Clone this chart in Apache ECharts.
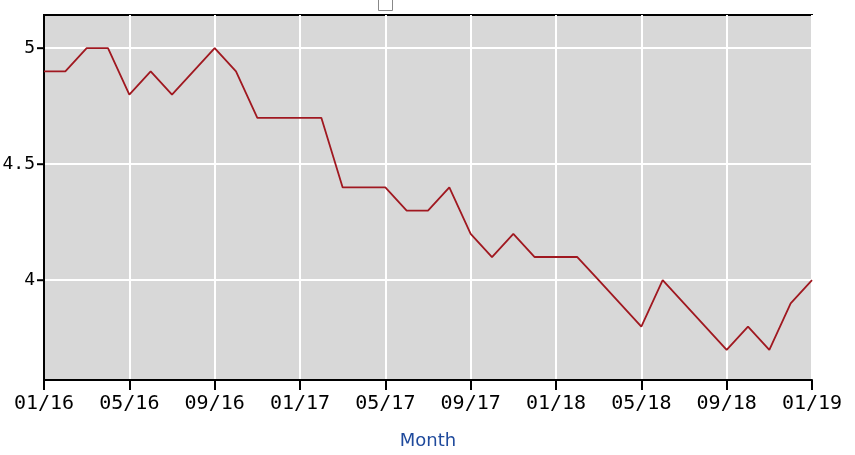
<!DOCTYPE html>
<html>
<head>
<meta charset="utf-8">
<script src="https://cdn.jsdelivr.net/npm/echarts@6/dist/echarts.min.js"></script>
<style>
  html, body { margin: 0; padding: 0; background: #fff; }
  #chart { width: 855px; height: 455px; }
</style>
</head>
<body>
<div id="chart"></div>
<script>
  // months 01/16 .. 01/19
  var months = ['01/16','02/16','03/16','04/16','05/16','06/16','07/16','08/16','09/16','10/16','11/16','12/16',
                '01/17','02/17','03/17','04/17','05/17','06/17','07/17','08/17','09/17','10/17','11/17','12/17',
                '01/18','02/18','03/18','04/18','05/18','06/18','07/18','08/18','09/18','10/18','11/18','12/18',
                '01/19'];
  var values = [4.9, 4.9, 5.0, 5.0, 4.8, 4.9, 4.8, 4.9, 5.0, 4.9, 4.7, 4.7,
                4.7, 4.7, 4.4, 4.4, 4.4, 4.3, 4.3, 4.4, 4.2, 4.1, 4.2, 4.1,
                4.1, 4.1, 4.0, 3.9, 3.8, 4.0, 3.9, 3.8, 3.7, 3.8, 3.7, 3.9,
                4.0];
  var yTicks = [4, 4.5, 5];

  var chart = echarts.init(document.getElementById('chart'));
  chart.setOption({
    animation: false,
    legend: {
      data: [' '],
      left: 373,
      top: -9,
      icon: 'rect',
      itemWidth: 14,
      itemHeight: 14,
      itemStyle: { color: '#fff', borderColor: '#888', borderWidth: 1 },
      textStyle: { fontSize: 1 }
    },
    grid: {
      left: 44,
      right: 43,
      top: 15,
      bottom: 75,
      outerBoundsMode: 'none',
      containLabel: false,
      show: true,
      backgroundColor: '#d8d8d8',
      borderColor: '#000',
      borderWidth: 2
    },
    xAxis: {
      type: 'category',
      boundaryGap: false,
      data: months,
      name: 'Month',
      nameLocation: 'middle',
      nameGap: 52,
      nameTextStyle: { color: '#1f4a9c', fontSize: 18, fontFamily: 'DejaVu Sans' },
      axisLine: { lineStyle: { color: '#000', width: 2 } },
      axisTick: { interval: 3, length: 10, lineStyle: { color: '#000', width: 2 } },
      axisLabel: { interval: 3, color: '#000', fontSize: 20, fontFamily: 'DejaVu Sans Mono', margin: 14, hideOverlap: false },
      splitLine: { show: true, interval: 3, lineStyle: { color: '#fff', width: 2 } }
    },
    yAxis: {
      type: 'value',
      min: 3.57,
      max: 5.143,
      axisLine: { show: true, lineStyle: { color: '#000', width: 2 } },
      axisTick: { show: false, customValues: yTicks },
      axisLabel: {
        customValues: yTicks,
        color: '#000',
        fontSize: 18,
        fontFamily: 'DejaVu Sans Mono',
        margin: 0,
        // tick mark drawn as part of the label (outward tick)
        formatter: function (v) { return v + '{s|}{t|}'; },
        rich: {
          s: { width: 2, height: 2 },
          t: { width: 7, height: 2, backgroundColor: '#000', verticalAlign: 'middle' }
        }
      },
      splitLine: { show: true, lineStyle: { color: '#fff', width: 2 } }
    },
    series: [{
      name: ' ',
      type: 'line',
      data: values,
      symbol: 'none',
      lineStyle: { color: '#a01820', width: 1.8 },
      itemStyle: { color: '#a01820' }
    }]
  });
</script>
</body>
</html>
